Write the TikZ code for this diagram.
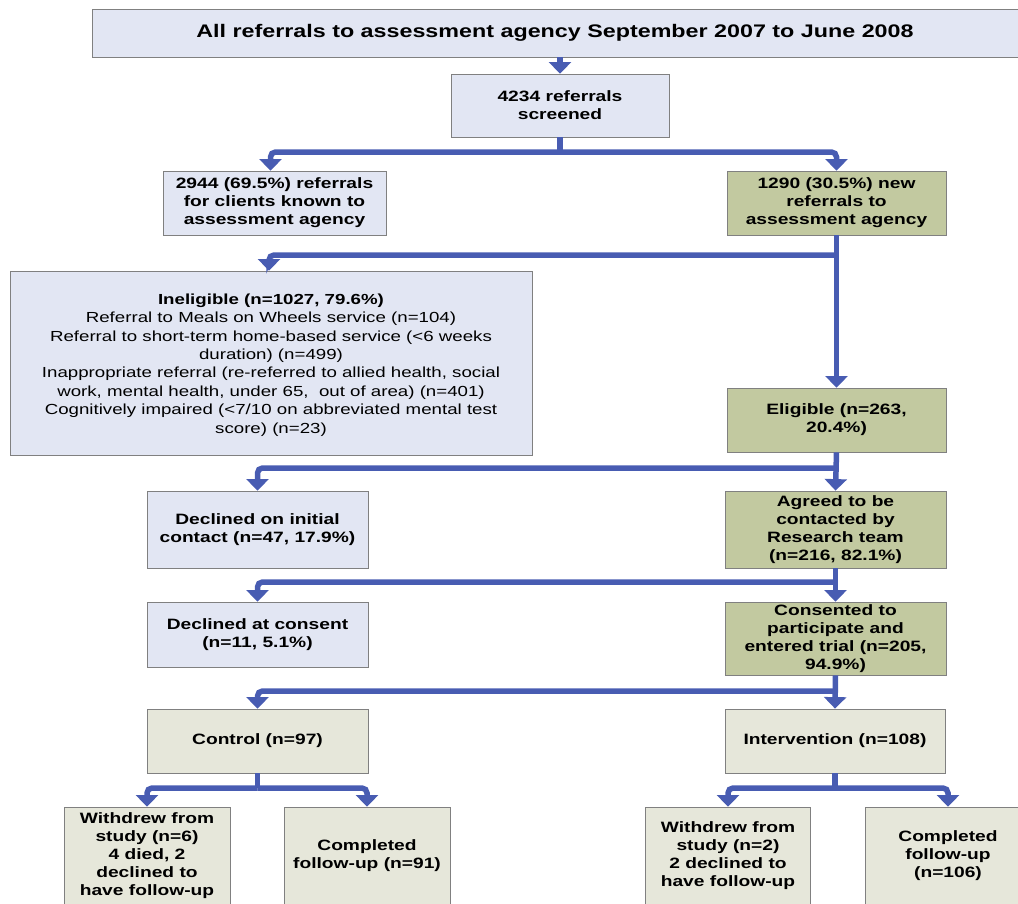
\documentclass[tikz,border=0pt]{standalone}
\usepackage{fontspec}
\setmainfont[FakeStretch=1.28]{Liberation Sans}
\usetikzlibrary{arrows.meta}
\definecolor{conn}{RGB}{72,92,178}
\definecolor{bordergray}{RGB}{128,128,128}
\definecolor{bluef}{RGB}{226,230,243}
\definecolor{olivef}{RGB}{194,201,160}
\definecolor{beigef}{RGB}{230,231,218}
\tikzset{
  box/.style={draw=bordergray, line width=0.8pt, align=center, inner sep=2pt,
    font=\fontsize{15}{18}\selectfont\bfseries},
  bluebox/.style={box, fill=bluef},
  olivebox/.style={box, fill=olivef},
  beigebox/.style={box, fill=beigef},
  conline/.style={draw=conn, line width=5.5pt},
  conarrow/.style={conline, rounded corners=5pt, -{Triangle[width=22pt,length=11.5pt]}}
}
\begin{document}
\begin{tikzpicture}[x=1pt,y=-1pt]
\useasboundingbox (0,0) rectangle (1018,903);

% boxes
\node[bluebox, minimum width=926, minimum height=48, font=\fontsize{18.2}{21}\selectfont\bfseries] (title) at (555,33)
  {All referrals to assessment agency September 2007 to June 2008};
\node[bluebox, minimum width=218, minimum height=63] (screened) at (560,105.5)
  {4234 referrals\\screened};
\node[bluebox, minimum width=223, minimum height=64] (known) at (274.5,203)
  {2944 (69.5\%) referrals\\for clients known to\\assessment agency};
\node[olivebox, minimum width=219, minimum height=64] (new) at (836.5,203)
  {1290 (30.5\%) new\\referrals to\\assessment agency};
\node[bluebox, minimum width=522, minimum height=184] (inel) at (271,363) {};
\node[font=\fontsize{14.6}{18.4}\selectfont, align=center, inner sep=0pt] (ineltext) at (271,365)
  {\textbf{Ineligible (n=1027, 79.6\%)}\\
   Referral to Meals on Wheels service (n=104)\\
   Referral to short-term home-based service (<6 weeks\\
   duration) (n=499)\\
   Inappropriate referral (re-referred to allied health, social\\
   work, mental health, under 65, \ out of area) (n=401)\\
   Cognitively impaired (<7/10 on abbreviated mental test\\
   score) (n=23)};
\node[olivebox, minimum width=219, minimum height=64] (elig) at (836.5,420)
  {Eligible (n=263,\\20.4\%)};
\node[bluebox, minimum width=221, minimum height=77] (dec1) at (257.5,529.5)
  {Declined on initial\\contact (n=47, 17.9\%)};
\node[olivebox, minimum width=221, minimum height=77] (agreed) at (835.5,529.5)
  {Agreed to be\\contacted by\\Research team\\(n=216, 82.1\%)};
\node[bluebox, minimum width=221, minimum height=65] (dec2) at (257.5,634.5)
  {Declined at consent\\(n=11, 5.1\%)};
\node[olivebox, minimum width=221, minimum height=73] (cons) at (835.5,638.5)
  {Consented to\\participate and\\entered trial (n=205,\\94.9\%)};
\node[beigebox, minimum width=221, minimum height=64] (control) at (257.5,741)
  {Control (n=97)};
\node[beigebox, minimum width=220, minimum height=64] (interv) at (835,741)
  {Intervention (n=108)};
\node[beigebox, minimum width=166, minimum height=98] (w1) at (147,856)
  {Withdrew from\\study (n=6)\\4 died, 2\\declined to\\have follow-up};
\node[beigebox, minimum width=166, minimum height=98] (c1) at (367,856)
  {Completed\\follow-up (n=91)};
\node[beigebox, minimum width=165, minimum height=98] (w2) at (728,856)
  {Withdrew from\\study (n=2)\\2 declined to\\have follow-up};
\node[beigebox, minimum width=165, minimum height=98] (c2) at (948,856)
  {Completed\\follow-up\\(n=106)};

% junctions
\coordinate (xM) at (560,0);
\coordinate (j1) at (560,152);
\coordinate (j2) at (836.5,255);
\coordinate (j3) at (836.5,468);
\coordinate (j4) at (835.5,582);
\coordinate (j5) at (835.5,691);
\coordinate (j6) at (257.5,788);
\coordinate (j7) at (835,788);

% connectors
\draw[conarrow] (xM |- title.south) -- (screened.north);
\draw[conline] (screened.south) -- (j1);
\draw[conarrow] (j1) -| ([xshift=-4pt]known.north);
\draw[conarrow] (j1) -| (new.north);

\draw[conarrow] (new.south) -- (elig.north);
\draw[conarrow] (j2) -| ([xshift=-2pt]inel.north);

\draw[conarrow] (elig.south) -- (agreed.north);
\draw[conarrow] (j3) -| (dec1.north);

\draw[conarrow] (agreed.south) -- (cons.north);
\draw[conarrow] (j4) -| (dec2.north);

\draw[conarrow] (cons.south) -- (interv.north);
\draw[conarrow] (j5) -| (control.north);

\draw[conline] (control.south) -- (j6);
\draw[conarrow] (j6) -| (w1.north);
\draw[conarrow] (j6) -| (c1.north);

\draw[conline] (interv.south) -- (j7);
\draw[conarrow] (j7) -| (w2.north);
\draw[conarrow] (j7) -| (c2.north);
\end{tikzpicture}
\end{document}
